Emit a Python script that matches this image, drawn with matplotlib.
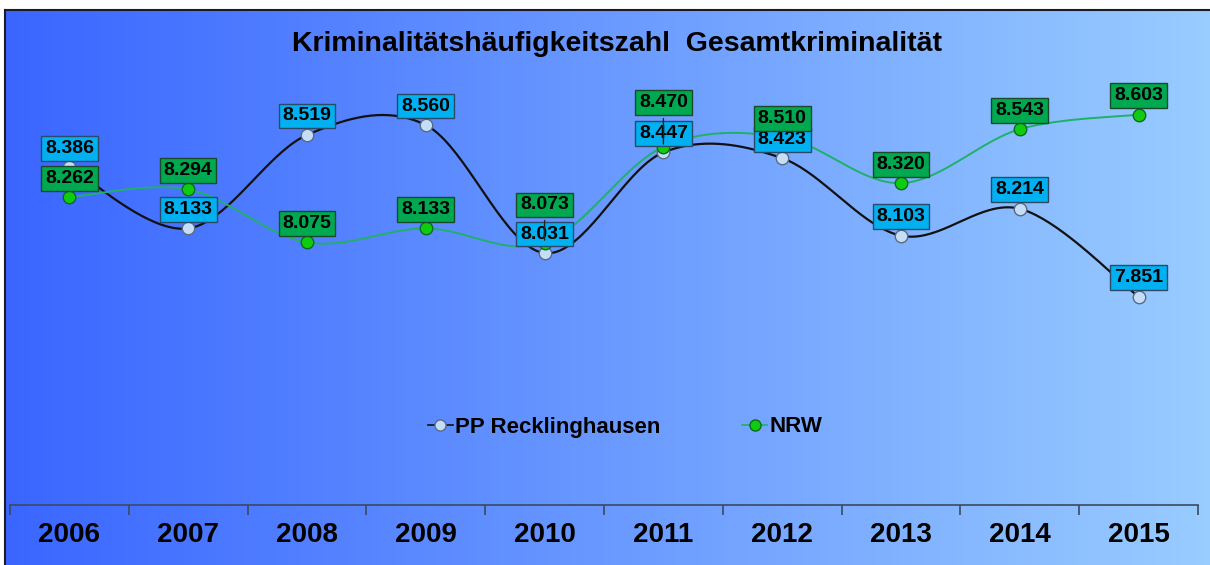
import numpy as np
import matplotlib.pyplot as plt
from matplotlib.colors import LinearSegmentedColormap

years = ['2006', '2007', '2008', '2009', '2010', '2011', '2012', '2013', '2014', '2015']
pp_recklinghausen = [8.386, 8.133, 8.519, 8.560, 8.031, 8.447, 8.423, 8.103, 8.214, 7.851]
nrw = [8.262, 8.294, 8.075, 8.133, 8.073, 8.470, 8.510, 8.320, 8.543, 8.603]

title = 'Kriminalitätshäufigkeitszahl  Gesamtkriminalität'
FONT = 'Liberation Sans'


def smooth(x, y, n=40):
    # Excel-like smoothing: cubic bezier with catmull-rom control points
    x = np.asarray(x, float)
    y = np.asarray(y, float)
    px = np.concatenate([[x[0]], x, [x[-1]]])
    py = np.concatenate([[y[0]], y, [y[-1]]])
    t = np.linspace(0, 1, n)[:, None]
    xs, ys = [], []
    for i in range(1, len(px) - 2):
        p0 = np.array([px[i], py[i]])
        p3 = np.array([px[i + 1], py[i + 1]])
        c1 = p0 + (p3 - np.array([px[i - 1], py[i - 1]])) / 6
        c2 = p3 - (np.array([px[i + 2], py[i + 2]]) - p0) / 6
        pts = ((1 - t) ** 3) * p0 + 3 * ((1 - t) ** 2) * t * c1 + 3 * (1 - t) * t ** 2 * c2 + t ** 3 * p3
        xs.append(pts[:, 0])
        ys.append(pts[:, 1])
    return np.concatenate(xs), np.concatenate(ys)


fig = plt.figure(figsize=(12.1, 5.65), dpi=100)

# gradient background box
bg = fig.add_axes([5 / 1210, 0, 1205 / 1210, 555 / 565])
cmap = LinearSegmentedColormap.from_list('bg', ['#3a66ff', '#99ccff'])
bg.imshow(np.linspace(0, 1, 256)[None, :], aspect='auto', cmap=cmap, extent=[0, 1, 0, 1])
bg.set_xlim(0, 1)
bg.set_ylim(0, 1)
bg.set_xticks([])
bg.set_yticks([])
for s in ['right', 'bottom']:
    bg.spines[s].set_visible(False)
for s in ['left', 'top']:
    bg.spines[s].set_color('#1a1a2a')
    bg.spines[s].set_linewidth(1.5)

ax = fig.add_axes([10 / 1210, 60 / 565, 1188 / 1210, 484 / 565])
ax.patch.set_alpha(0)
x = np.arange(len(years))

sx, sy = smooth(x, pp_recklinghausen)
ax.plot(sx, sy, color='#111111', lw=1.6, zorder=2)
ax.plot(x, pp_recklinghausen, ls='none', marker='o', ms=9, mfc='#c5def7', mec='#5a6a80', mew=1, zorder=3)

gx, gy = smooth(x, nrw)
ax.plot(gx, gy, color='#20b068', lw=1.4, zorder=2)
ax.plot(x, nrw, ls='none', marker='o', ms=9, mfc='#10cc10', mec='#0a6a20', mew=1, zorder=3)

# legend proxies
h1, = ax.plot([], [], color='#111111', lw=1.2, marker='o', ms=8, mfc='#c5def7', mec='#5a6a80')
h2, = ax.plot([], [], color='#20b068', lw=1.2, marker='o', ms=8, mfc='#10cc10', mec='#0a6a20')

green_shift = [0, 0, 0, 0, -19, -25, 0, 0, 0, 0]
for i in range(len(years)):
    ax.annotate(f'{pp_recklinghausen[i]:.3f}', (x[i], pp_recklinghausen[i]),
                xytext=(0, 19 * 0.72), textcoords='offset points', ha='center', va='center',
                fontsize=14, fontweight='bold', family=FONT, zorder=5,
                bbox=dict(boxstyle='square,pad=0.2', fc='#00b0f0', ec='#2a4a6a', lw=1))
    ax.annotate(f'{nrw[i]:.3f}', (x[i], nrw[i]),
                xytext=(0, (19 - green_shift[i]) * 0.72), textcoords='offset points',
                ha='center', va='center', fontsize=14, fontweight='bold', family=FONT, zorder=6,
                bbox=dict(boxstyle='square,pad=0.2', fc='#00a850', ec='#1a4a2a', lw=1),
                arrowprops=dict(arrowstyle='-', color='#222222', lw=1) if green_shift[i] else None)

ax.set_xlim(-0.5, len(years) - 0.5)
ax.set_ylim(6.99, 8.99)
ax.set_yticks([])
for s in ['left', 'right', 'top']:
    ax.spines[s].set_visible(False)
ax.spines['bottom'].set_color('#3a4a60')
ax.spines['bottom'].set_linewidth(1.2)
ax.set_xticks(x)
ax.set_xticklabels(years, fontsize=20, fontweight='bold', family=FONT)
ax.tick_params(axis='x', which='major', length=0, pad=12)
ax.set_xticks(np.arange(-0.5, len(years)), minor=True)
ax.tick_params(axis='x', which='minor', length=7, width=1.2, color='#3a4a60', direction='out')

fig.text(617 / 1210, (565 - 44) / 565, title, ha='center', va='center',
         fontsize=20.5, fontweight='bold', family=FONT)

fig.legend([h1, h2], ['PP Recklinghausen', 'NRW'], loc='center',
           bbox_to_anchor=(625 / 1210, (565 - 427) / 565), ncol=2, frameon=False,
           handlelength=1.1, handletextpad=0.1, columnspacing=3.7,
           prop=dict(family=FONT, weight='bold', size=16))

fig.savefig('out.png', dpi=100)
